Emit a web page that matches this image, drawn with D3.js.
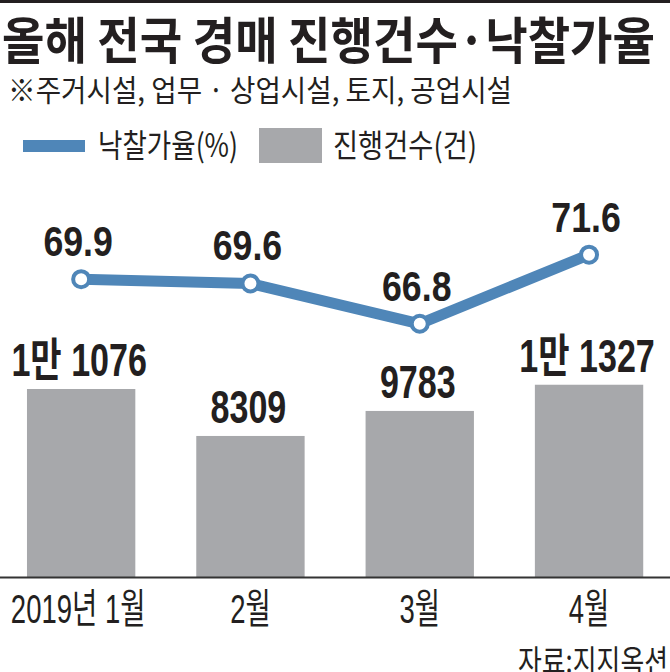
<!DOCTYPE html>
<html>
<head>
<meta charset="utf-8">
<script src="https://cdn.jsdelivr.net/npm/d3@7"></script>
<style>
  html, body { margin: 0; padding: 0; background: #fff; }
  svg { display: block; }
</style>
</head>
<body>
<script>
// ---- data ----
const categories = ["2019년 1월", "2월", "3월", "4월"];
const counts = [11076, 8309, 9783, 11327];
const countLabels = ["1만 1076", "8309", "9783", "1만 1327"];
const rates = [69.9, 69.6, 66.8, 71.6];
const rateLabels = ["69.9", "69.6", "66.8", "71.6"];
const titleText = "올해 전국 경매 진행건수·낙찰가율";
const subtitleText = "※주거시설, 업무 · 상업시설, 토지, 공업시설";
const legendLabels = ["낙찰가율(%)", "진행건수(건)"];
const sourceText = "자료:지지옥션";

// ---- layout ----
const W = 670, H = 672;
const ink = "#231f20", blue = "#4f86b8", gray = "#a7a8ab";
const latin = "'Liberation Sans', Arial, 'Noto Sans CJK KR', sans-serif";
const kr = "'Noto Sans CJK KR', 'Liberation Sans', sans-serif";

const svg = d3.select("body").append("svg").attr("width", W).attr("height", H);

function fit(sel, target) {
  sel.each(function() {
    d3.select(this).attr("textLength", target).attr("lengthAdjust", "spacingAndGlyphs");
  });
}
function condense(sel, factor) {
  sel.each(function() {
    const w = this.getComputedTextLength();
    d3.select(this).attr("textLength", w * factor).attr("lengthAdjust", "spacingAndGlyphs");
  });
}

// top rule
svg.append("rect").attr("x", 0).attr("y", 0).attr("width", W).attr("height", 3).attr("fill", ink);

// title
svg.append("text").attr("x", 2).attr("y", 59)
  .attr("font-family", kr).attr("font-weight", 700).attr("font-size", 50)
  .attr("fill", ink).text(titleText).call(fit, 653);

// subtitle
svg.append("text").attr("x", 8).attr("y", 101)
  .attr("font-family", kr).attr("font-weight", 400).attr("font-size", 30)
  .attr("fill", ink).text(subtitleText).call(fit, 504);

// legend
svg.append("line").attr("x1", 23).attr("x2", 85).attr("y1", 146).attr("y2", 146)
  .attr("stroke", blue).attr("stroke-width", 12);
svg.append("text").attr("x", 98).attr("y", 157)
  .attr("font-family", kr).attr("font-size", 32).attr("fill", ink)
  .text(legendLabels[0]).call(fit, 140);
svg.append("rect").attr("x", 259).attr("y", 128).attr("width", 63).attr("height", 35).attr("fill", gray);
svg.append("text").attr("x", 333).attr("y", 157)
  .attr("font-family", kr).attr("font-size", 32).attr("fill", ink)
  .text(legendLabels[1]).call(fit, 144);

// scales
const x = d3.scaleBand().domain(categories).range([-3.5, 673.7]).paddingInner(0.36).paddingOuter(0.18);
const yBar = d3.scaleLinear().domain([0, 12000]).range([577, 577 - 0.016974 * 12000]);
const yLine = d3.scaleLinear().domain([66, 72]).range([335.3, 248.9]);

const barData = categories.map((c, i) => ({ c, v: counts[i], label: countLabels[i] }));
const lineData = categories.map((c, i) => ({ c, v: rates[i], label: rateLabels[i] }));

// bars
svg.append("g").selectAll("rect").data(barData).join("rect")
  .attr("x", d => x(d.c)).attr("width", x.bandwidth())
  .attr("y", d => yBar(d.v)).attr("height", d => yBar(0) - yBar(d.v))
  .attr("fill", gray);

// bar labels
svg.append("g").selectAll("text").data(barData).join("text")
  .attr("x", d => x(d.c) + x.bandwidth() / 2 - 2)
  .attr("y", d => yBar(d.v) - 13)
  .attr("text-anchor", "middle")
  .attr("font-family", latin).attr("font-weight", 700).attr("font-size", 46)
  .attr("fill", ink).text(d => d.label).call(condense, 0.74);

// axis baseline
const axis = d3.axisBottom(x).tickSize(0).tickPadding(0).tickFormat("");
const gAxis = svg.append("g").attr("transform", `translate(0,${yBar(0)})`).call(axis);
gAxis.select(".domain").remove();
svg.append("line").attr("x1", 0).attr("x2", W).attr("y1", yBar(0) + 0.5).attr("y2", yBar(0) + 0.5)
  .attr("stroke", "#333").attr("stroke-width", 2);

// x labels
svg.append("g").selectAll("text").data(categories).join("text")
  .attr("x", d => x(d) + x.bandwidth() / 2 - (d === categories[0] ? 3 : 0))
  .attr("y", 623)
  .attr("text-anchor", "middle")
  .attr("font-family", latin).attr("font-weight", 400).attr("font-size", 41)
  .attr("fill", ink).text(d => d).call(condense, 0.67);

// line
const line = d3.line().x(d => x(d.c) + x.bandwidth() / 2).y(d => yLine(d.v));
svg.append("path").datum(lineData).attr("d", line)
  .attr("fill", "none").attr("stroke", blue).attr("stroke-width", 11)
  .attr("stroke-linejoin", "round");

svg.append("g").selectAll("circle").data(lineData).join("circle")
  .attr("cx", d => x(d.c) + x.bandwidth() / 2).attr("cy", d => yLine(d.v))
  .attr("r", 8).attr("fill", "#fff").attr("stroke", blue).attr("stroke-width", 4);

// line labels
svg.append("g").selectAll("text").data(lineData).join("text")
  .attr("x", d => x(d.c) + x.bandwidth() / 2 - 3)
  .attr("y", d => yLine(d.v) - 23)
  .attr("text-anchor", "middle")
  .attr("font-family", latin).attr("font-weight", 700).attr("font-size", 42)
  .attr("fill", ink).text(d => d.label).call(condense, 0.85);

// source
svg.append("text").attr("x", 668).attr("y", 673).attr("text-anchor", "end")
  .attr("font-family", kr).attr("font-size", 32).attr("fill", ink)
  .text(sourceText).call(fit, 150);
</script>
</body>
</html>
